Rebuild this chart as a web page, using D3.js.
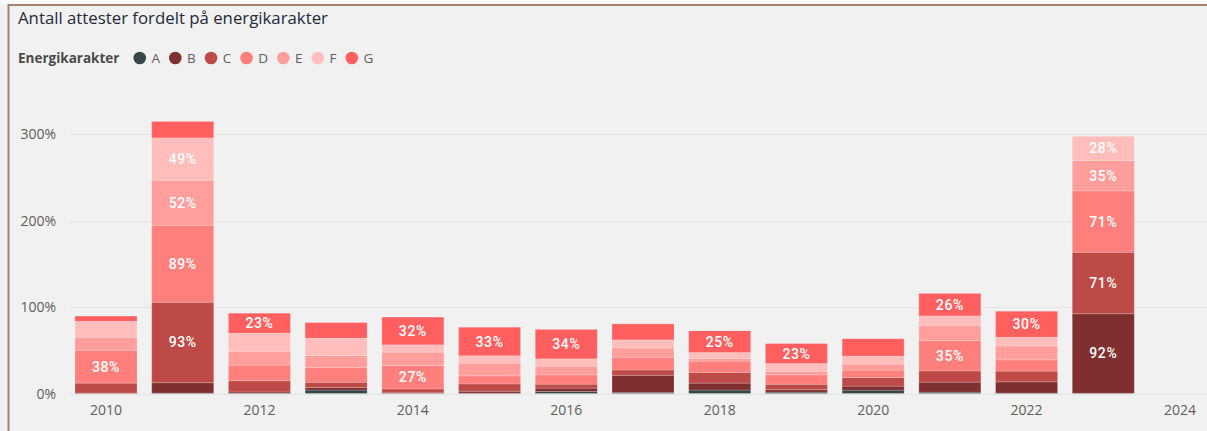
<!DOCTYPE html>
<html>
<head>
<meta charset="utf-8">
<script src="https://cdn.jsdelivr.net/npm/d3@7"></script>
<style>
  html, body { margin: 0; padding: 0; background: #f1f1f1; }
  svg { display: block; }
</style>
</head>
<body>
<svg id="chart" width="1207" height="431"></svg>
<script>
  const years = [2010, 2011, 2012, 2013, 2014, 2015, 2016, 2017, 2018, 2019, 2020, 2021, 2022, 2023];
  const keys = ['A', 'B', 'C', 'D', 'E', 'F', 'G'];
  const colors = ['#374649', '#7f2f2f', '#bd4a47', '#fe7f7b', '#ff9e9b', '#ffbdbc', '#ff5f5f'];

  // andel per energikarakter (%), per år
  const valA = [0, 0.5, 0.3, 4, 0.3, 0.3, 2.3, 1, 4, 1.5, 3.9, 1.5, 0.5, 0.3];
  const valB = [0.5, 12, 1.5, 3, 0.5, 2.3, 3.9, 20, 8, 3, 4.6, 11.6, 13, 92];
  const valC = [11.5, 93, 13, 6, 4.5, 8.5, 4.6, 6.2, 12.4, 6.2, 10, 13, 12.4, 71];
  const valD = [38, 89, 18, 17, 27, 9.3, 10.8, 14.7, 13, 11, 8.5, 35, 13, 71];
  const valE = [15, 52, 16, 14, 15.5, 14.7, 10, 10.8, 3, 4, 7, 17, 16.2, 35];
  const valF = [18.5, 49, 21, 20, 8.5, 8.5, 8.5, 9.3, 7, 9, 9.3, 11.6, 10, 28];
  const valG = [6, 19, 23, 18, 32, 33, 34, 18.5, 25, 23, 20, 26, 30, 0];

  const xTicks = [2010, 2012, 2014, 2016, 2018, 2020, 2022, 2024];
  const yTicks = [0, 100, 200, 300];

  const title = 'Antall attester fordelt på energikarakter';
  const legendTitle = 'Energikarakter';

  const series = [valA, valB, valC, valD, valE, valF, valG];
  const data = years.map((year, i) => {
    const row = {year: year};
    keys.forEach((k, j) => { row[k] = series[j][i]; });
    return row;
  });

  const svg = d3.select('#chart'),
      width = +svg.attr('width'),
      height = +svg.attr('height');

  const font = '"Open Sans", "Noto Sans", sans-serif';

  // ramme
  svg.append('rect')
      .attr('x', 0).attr('y', 0)
      .attr('width', width).attr('height', 4)
      .attr('fill', '#fafafa');
  svg.append('line')
      .attr('x1', 8).attr('x2', width)
      .attr('y1', 5).attr('y2', 5)
      .attr('stroke', '#a3806f').attr('stroke-width', 2);
  svg.append('line')
      .attr('x1', 8.5).attr('x2', 8.5)
      .attr('y1', 4).attr('y2', height)
      .attr('stroke', '#a3806f').attr('stroke-width', 2);

  svg.append('text')
      .attr('x', 18).attr('y', 24)
      .attr('font-family', font)
      .attr('font-size', 16.8)
      .attr('fill', '#252a3a')
      .text(title);

  // legend
  const legend = svg.append('g')
      .attr('font-family', font)
      .attr('font-size', 13.5);

  const lt = legend.append('text')
      .attr('x', 18).attr('y', 62.5)
      .attr('font-weight', 'bold')
      .attr('fill', '#4a4a4a')
      .text(legendTitle);

  let lx = 18 + lt.node().getComputedTextLength() + 14;
  keys.forEach((k, i) => {
    legend.append('circle')
        .attr('cx', lx + 6.3).attr('cy', 58)
        .attr('r', 6.3)
        .attr('fill', colors[i]);
    const t = legend.append('text')
        .attr('x', lx + 18).attr('y', 62.5)
        .attr('fill', '#605e5c')
        .text(k);
    lx += 18 + t.node().getComputedTextLength() + 9;
  });

  const x = d3.scaleLinear()
      .domain([2010, 2024])
      .range([106, 1180]);

  const y = d3.scaleLinear()
      .domain([0, 300])
      .range([393.5, 134]);

  const barW = 62;

  // rutenett
  svg.append('g')
      .selectAll('line')
      .data(yTicks)
      .enter().append('line')
      .attr('x1', 70).attr('x2', width)
      .attr('y1', d => Math.round(y(d)) + 0.5)
      .attr('y2', d => Math.round(y(d)) + 0.5)
      .attr('stroke', '#e4e4e4')
      .attr('stroke-width', 1);

  svg.append('g')
      .selectAll('text')
      .data(yTicks)
      .enter().append('text')
      .attr('x', 56)
      .attr('y', d => y(d) + 5)
      .attr('text-anchor', 'end')
      .attr('font-family', font)
      .attr('font-size', 14)
      .attr('fill', '#605e5c')
      .text(d => `${d}%`);

  svg.append('g')
      .selectAll('text')
      .data(xTicks)
      .enter().append('text')
      .attr('x', d => x(d))
      .attr('y', 414.5)
      .attr('text-anchor', 'middle')
      .attr('font-family', font)
      .attr('font-size', 14)
      .attr('fill', '#605e5c')
      .text(d => d);

  const stacked = d3.stack().keys(keys)(data);

  const layer = svg.append('g')
      .selectAll('g')
      .data(stacked)
      .enter().append('g')
      .attr('fill', (d, i) => colors[i]);

  layer.selectAll('rect')
      .data(d => d)
      .enter().append('rect')
      .attr('x', d => x(d.data.year) - barW / 2)
      .attr('y', d => y(d[1]))
      .attr('width', barW)
      .attr('height', d => Math.max(0, y(d[0]) - y(d[1])))
      .attr('stroke', 'rgba(255,255,255,0.18)')
      .attr('stroke-width', 1);

  // dataetiketter for segmenter som er høye nok
  const labels = [];
  stacked.forEach(s => s.forEach(d => {
    const h = y(d[0]) - y(d[1]);
    if (h >= 19.5) {
      labels.push({x: x(d.data.year), y: (y(d[0]) + y(d[1])) / 2,
        v: d[1] - d[0]});
    }
  }));

  svg.append('g')
      .selectAll('text')
      .data(labels)
      .enter().append('text')
      .attr('x', d => d.x)
      .attr('y', d => d.y + 5)
      .attr('text-anchor', 'middle')
      .attr('font-family', 'Roboto, sans-serif')
      .attr('font-weight', 500)
      .attr('font-size', 14)
      .attr('letter-spacing', 0.6)
      .attr('fill', '#ffffff')
      .text(d => `${Math.round(d.v)}%`);
</script>
</body>
</html>
